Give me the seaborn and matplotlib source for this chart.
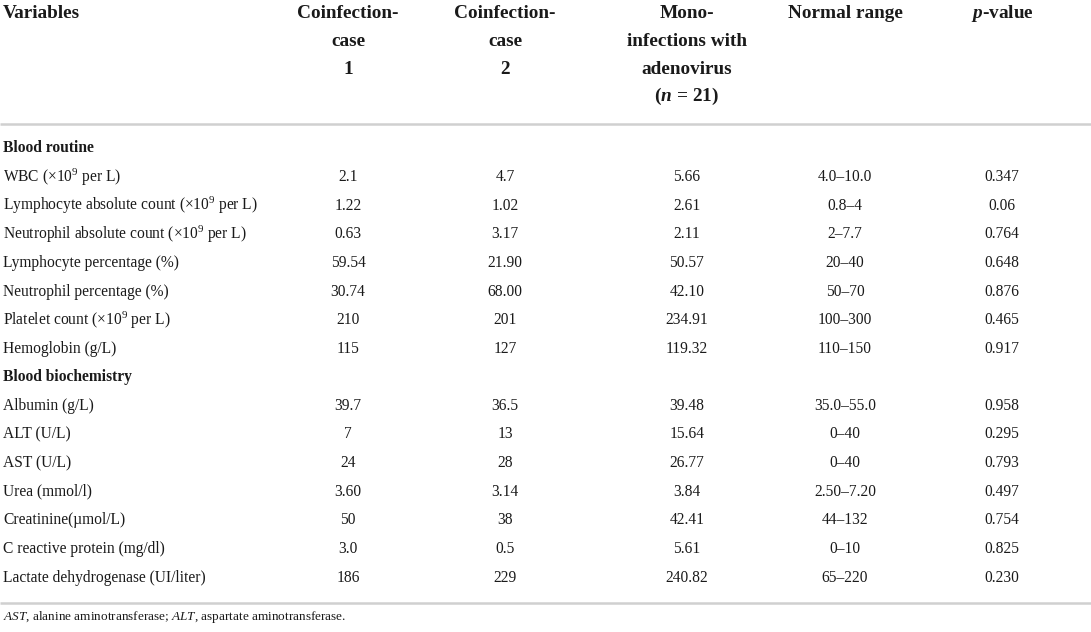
import matplotlib
matplotlib.use("Agg")
import matplotlib.pyplot as plt
import seaborn as sns

# --- table content ---
headers = [["Variables"],
           ["Coinfection-", "case", "1"],
           ["Coinfection-", "case", "2"],
           ["Mono-", "infections with", "adenovirus",
            "($\\mathbfit{n}$$\\mathbf{\\,=\\,21)}$"],
           ["Normal range"],
           ["$\\mathbfit{p}$-value"]]

sections = ["Blood routine", "Blood biochemistry"]

routine_vars = ["WBC ($\\times$10$^9$ per L)",
                "Lymphocyte absolute count ($\\times$10$^9$ per L)",
                "Neutrophil absolute count ($\\times$10$^9$ per L)",
                "Lymphocyte percentage (%)",
                "Neutrophil percentage (%)",
                "Platelet count ($\\times$10$^9$ per L)",
                "Hemoglobin (g/L)"]
routine_case1 = ["2.1", "1.22", "0.63", "59.54", "30.74", "210", "115"]
routine_case2 = ["4.7", "1.02", "3.17", "21.90", "68.00", "201", "127"]
routine_mono = ["5.66", "2.61", "2.11", "50.57", "42.10", "234.91", "119.32"]
routine_range = ["4.0–10.0", "0.8–4", "2–7.7", "20–40", "50–70", "100–300", "110–150"]
routine_p = ["0.347", "0.06", "0.764", "0.648", "0.876", "0.465", "0.917"]

biochem_vars = ["Albumin (g/L)", "ALT (U/L)", "AST (U/L)", "Urea (mmol/l)",
                "Creatinine(µmol/L)", "C reactive protein (mg/dl)",
                "Lactate dehydrogenase (UI/liter)"]
biochem_case1 = ["39.7", "7", "24", "3.60", "50", "3.0", "186"]
biochem_case2 = ["36.5", "13", "28", "3.14", "38", "0.5", "229"]
biochem_mono = ["39.48", "15.64", "26.77", "3.84", "42.41", "5.61", "240.82"]
biochem_range = ["35.0–55.0", "0–40", "0–40", "2.50–7.20", "44–132", "0–10", "65–220"]
biochem_p = ["0.958", "0.295", "0.793", "0.497", "0.754", "0.825", "0.230"]

footnote = "$\\mathit{AST}$, alanine aminotransferase; $\\mathit{ALT}$, aspartate aminotransferase."

sns.set_theme(style="white")
plt.rcParams['font.family'] = ['Liberation Serif', 'DejaVu Serif']
plt.rcParams['mathtext.fontset'] = 'custom'
plt.rcParams['mathtext.rm'] = 'Liberation Serif'
plt.rcParams['mathtext.it'] = 'Liberation Serif:italic'
plt.rcParams['mathtext.bf'] = 'Liberation Serif:bold'
plt.rcParams['mathtext.bfit'] = 'Liberation Serif:bold:italic'

W, H = 1091, 632
fig = plt.figure(figsize=(W / 100, H / 100), dpi=100)
ax = fig.add_axes([0, 0, 1, 1])
ax.set_xlim(0, W)
ax.set_ylim(H, 0)
ax.axis("off")

text_color = "#1a1a1a"
line_color = "#d0d0d0"
col_x = [3, 348, 505, 687, 845, 1002]
body_fs = 11.2
head_fs = 13.9

# header, one line at a time
for i, lines in enumerate(headers):
    for n, h in enumerate(lines):
        ax.text(col_x[i], 18.5 + n * 27.6, h, ha="left" if i == 0 else "center",
                va="baseline", fontsize=head_fs, fontweight="bold", color=text_color)

ax.plot([0, W], [123.5, 123.5], color=line_color, lw=1.8, solid_capstyle="butt")

# body
rows = []
rows.append((sections[0], None))
for r in zip(routine_vars, routine_case1, routine_case2, routine_mono, routine_range, routine_p):
    rows.append((r[0], r[1:]))
rows.append((sections[1], None))
for r in zip(biochem_vars, biochem_case1, biochem_case2, biochem_mono, biochem_range, biochem_p):
    rows.append((r[0], r[1:]))

y0, dy = 148.5, 28.6
for k, (label, vals) in enumerate(rows):
    y = y0 + k * dy
    if vals is None:
        ax.text(col_x[0], y, label, ha="left", va="center", fontsize=body_fs,
                fontweight="bold", color=text_color)
        continue
    ax.text(col_x[0], y, label, ha="left", va="center", fontsize=body_fs,
            color=text_color)
    for j, v in enumerate(vals):
        ax.text(col_x[j + 1], y, v, ha="center", va="center", fontsize=body_fs,
                color=text_color)

ax.plot([0, W], [602.5, 602.5], color=line_color, lw=1.8, solid_capstyle="butt")
ax.text(col_x[0], 617, footnote, ha="left", va="center", fontsize=9.5,
        color=text_color)

fig.savefig("out.png", dpi=100)
